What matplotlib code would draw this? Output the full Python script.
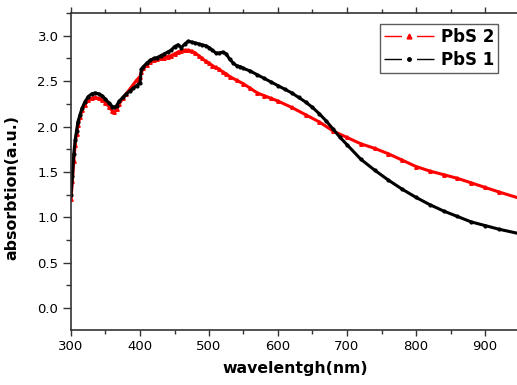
import matplotlib
matplotlib.use("Agg")
import matplotlib.pyplot as plt
from matplotlib.lines import Line2D
from matplotlib.ticker import MultipleLocator, FormatStrFormatter

# PbS 1 (black)
wl_1 = [300, 302, 304, 306, 308, 310, 313, 316, 320, 325, 330, 335, 340, 345, 350,
        355, 360, 363, 366, 370, 375, 380, 385, 390, 395, 400, 402, 405, 410, 415,
        420, 425, 430, 435, 440, 445, 450, 455, 460, 465, 470, 475, 480, 485, 490,
        495, 500, 505, 510, 515, 520, 525, 530, 535, 540, 545, 550, 560, 570, 580,
        590, 600, 610, 620, 630, 640, 650, 660, 670, 680, 690, 700, 720, 740, 760,
        780, 800, 820, 840, 860, 880, 900, 920, 950]
abs_1 = [1.25, 1.45, 1.70, 1.85, 1.95, 2.05, 2.13, 2.20, 2.27, 2.33, 2.36, 2.37, 2.36, 2.34, 2.30,
         2.26, 2.22, 2.21, 2.23, 2.28, 2.32, 2.36, 2.39, 2.42, 2.45, 2.48, 2.63, 2.66, 2.70, 2.73,
         2.75, 2.76, 2.78, 2.80, 2.82, 2.84, 2.88, 2.90, 2.87, 2.91, 2.94, 2.93, 2.92, 2.91, 2.90,
         2.89, 2.87, 2.84, 2.81, 2.81, 2.82, 2.80, 2.74, 2.70, 2.67, 2.66, 2.64, 2.61, 2.57, 2.53,
         2.49, 2.45, 2.41, 2.37, 2.32, 2.27, 2.21, 2.14, 2.06, 1.97, 1.88, 1.80, 1.64, 1.52, 1.41,
         1.31, 1.22, 1.14, 1.07, 1.01, 0.95, 0.91, 0.87, 0.82]

# PbS 2 (red)
wl_2 = [300, 302, 304, 306, 308, 310, 313, 316, 320, 325, 330, 335, 340, 345, 350,
        355, 360, 363, 366, 370, 375, 380, 385, 390, 395, 400, 402, 405, 410, 415,
        420, 425, 430, 435, 440, 445, 450, 455, 460, 465, 470, 475, 480, 485, 490,
        495, 500, 505, 510, 515, 520, 525, 530, 540, 550, 560, 570, 580, 590, 600,
        620, 640, 660, 680, 700, 720, 740, 760, 780, 800, 820, 840, 860, 880, 900,
        920, 950]
abs_2 = [1.20, 1.40, 1.62, 1.80, 1.92, 2.02, 2.10, 2.18, 2.24, 2.29, 2.31, 2.32, 2.31, 2.29, 2.26,
         2.22, 2.17, 2.16, 2.19, 2.25, 2.31, 2.36, 2.41, 2.46, 2.51, 2.55, 2.60, 2.64, 2.68, 2.71,
         2.73, 2.74, 2.75, 2.76, 2.77, 2.78, 2.80, 2.82, 2.83, 2.84, 2.84, 2.83, 2.81, 2.78, 2.75,
         2.72, 2.70, 2.67, 2.65, 2.63, 2.60, 2.58, 2.55, 2.51, 2.47, 2.42, 2.37, 2.34, 2.31, 2.28,
         2.21, 2.13, 2.05, 1.95, 1.88, 1.81, 1.76, 1.70, 1.63, 1.56, 1.51, 1.47, 1.43, 1.38, 1.33,
         1.28, 1.21]

fig = plt.figure(figsize=(5.17, 3.85), dpi=100)
ax = fig.add_axes([71 / 517, 55 / 385, 448.5 / 517, 317 / 385])

ax.plot(wl_2, abs_2, color="red", lw=2.2, marker="^", ms=2.5)
ax.plot(wl_1, abs_1, color="black", lw=2.2, marker="o", ms=2)

ax.set_xlim(300, 950)
ax.set_ylim(-0.24, 3.25)
ax.xaxis.set_major_locator(MultipleLocator(100))
ax.xaxis.set_minor_locator(MultipleLocator(50))
ax.yaxis.set_major_locator(MultipleLocator(0.5))
ax.yaxis.set_minor_locator(MultipleLocator(0.25))
ax.yaxis.set_major_formatter(FormatStrFormatter("%.1f"))

for s in ax.spines.values():
    s.set_color("#333333")
    s.set_linewidth(1.2)
ax.spines["right"].set_visible(False)

ax.tick_params(which="major", direction="out", length=6, width=1, color="#333333",
               labelsize=9.5, pad=3)
ax.tick_params(which="minor", direction="out", length=3.5, width=1, color="#333333")
ax.tick_params(axis="x", which="both", top=True, labeltop=False)
ax.xaxis.set_tick_params(which="major", length=4)
ax.xaxis.set_tick_params(which="minor", length=3)

ax.set_xlabel("wavelentgh(nm)", fontsize=11.3, fontweight="bold", labelpad=6)
ax.set_ylabel("absorbtion(a.u.)", fontsize=11.3, fontweight="bold", labelpad=8)
ax.yaxis.set_label_coords(-0.115, 0.45)

# legend with the gap around the symbol, like the original software draws it
handles = [
    Line2D([0], [0], color="red", lw=1, marker="^", ms=3.5, linestyle=(0, (12.6, 10.8))),
    Line2D([0], [0], color="black", lw=1, marker="o", ms=2.5, linestyle=(0, (12.6, 10.8))),
]
leg = ax.legend(handles, ["PbS 2", "PbS 1"], loc="upper left",
                bbox_to_anchor=(380 / 517, 1 - 24 / 385), bbox_transform=fig.transFigure,
                prop={"weight": "bold", "size": 12}, frameon=True, fancybox=False,
                handlelength=3.0, handletextpad=0.4, borderpad=0.25, labelspacing=0.3,
                borderaxespad=0)
leg.get_frame().set_edgecolor("#333333")
leg.get_frame().set_linewidth(1)

fig.savefig("out.png", dpi=100)
